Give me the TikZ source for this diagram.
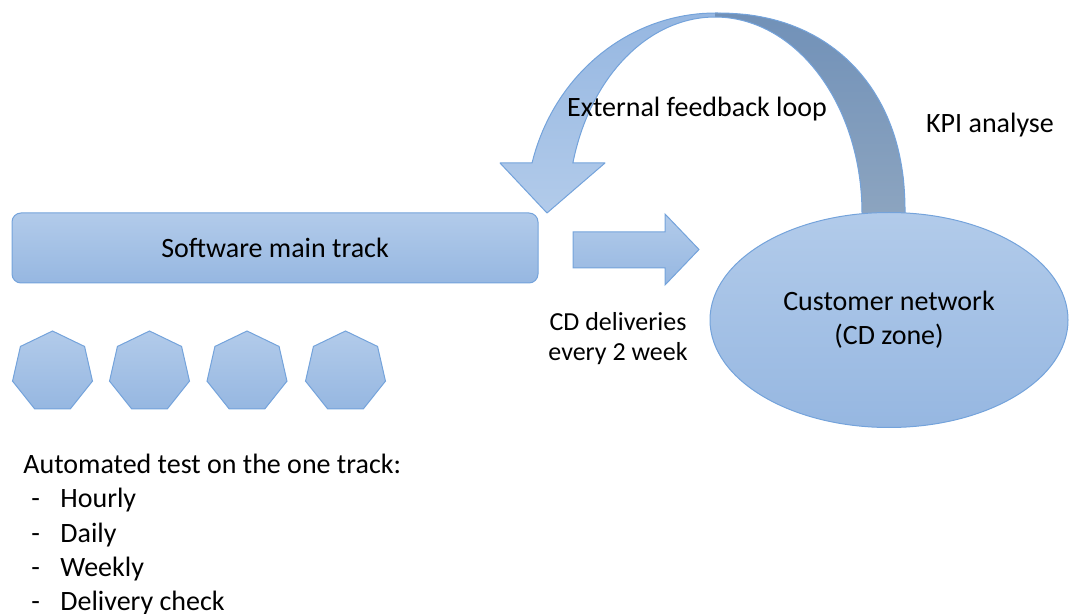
\documentclass[tikz,border=0pt]{standalone}
\usepackage{fontspec}
\setmainfont{Carlito}
\usetikzlibrary{shapes.geometric}

\definecolor{accentline}{HTML}{74A3DB}
\definecolor{accenttop}{HTML}{B2CBEA}
\definecolor{accentbot}{HTML}{96B7E1}
\definecolor{loopdark}{HTML}{7191B8}
\definecolor{loopdarkbot}{HTML}{8DA5C0}

\begin{document}
\begin{tikzpicture}[
  x=0.5pt, y=-0.5pt,
  font=\fontsize{14}{17}\selectfont,
  accent/.style={draw=accentline, line width=0.5pt, top color=accenttop, bottom color=accentbot},
  track/.style={accent, rounded corners=4.5pt, minimum width=263pt, minimum height=35pt, inner sep=0pt},
  testrun/.style={accent, regular polygon, regular polygon sides=7, minimum size=41pt, inner sep=0pt},
  zone/.style={accent, ellipse, minimum width=179pt, minimum height=107.5pt, inner sep=0pt, align=center},
  txt/.style={inner sep=0pt, align=center},
  listitem/.style={inner sep=0pt, anchor=base west}
]
\useasboundingbox (0,0) rectangle (1070,614);

% External feedback loop (light half, dark half, outline)
\path[top color=accentbot, bottom color=accenttop]
  plot[domain=270:194.48, samples=40] ({715.5+189.5*cos(\x)}, {213+200*sin(\x)})
  -- (500,163) -- (547,213) -- (605,163) -- (573,163)
  -- plot[domain=194.78:270, samples=40] ({715+147*cos(\x)}, {213+196*sin(\x)}) -- cycle;
\path[top color=loopdark, bottom color=loopdarkbot]
  (715.5,13) -- plot[domain=1:89, samples=40] ({715.5+189.5*(sin(\x))^0.9}, {213-200*(cos(\x))^0.9})
  -- (905,213) -- (905,222) -- (862,222)
  -- plot[domain=360:270, samples=40] ({715+147*cos(\x)}, {213+196*sin(\x)}) -- cycle;
\draw[accentline, line width=0.5pt, line join=round]
  (905,213) -- plot[domain=89:1, samples=40] ({715.5+189.5*(sin(\x))^0.9}, {213-200*(cos(\x))^0.9})
  -- plot[domain=270:194.48, samples=40] ({715.5+189.5*cos(\x)}, {213+200*sin(\x)})
  -- (500,163) -- (547,213) -- (605,163) -- (573,163)
  -- plot[domain=194.78:360, samples=80] ({715+147*cos(\x)}, {213+196*sin(\x)});

% Main track and test runs
\node[track] (track) at (275,248) {Software main track};
\node[testrun] (t1) at (52.5,372) {};
\node[testrun] (t2) at (149.5,372) {};
\node[testrun] (t3) at (247,372) {};
\node[testrun] (t4) at (345.5,372) {};

% Delivery arrow
\path[accent] (573,232) -- (665,232) -- (665,214) -- (699,249.5) -- (665,285) -- (665,268) -- (573,268) -- cycle;

% Customer side
\node[zone] (cust) at (889,320) {Customer network\\(CD zone)};

% Labels
\node[txt] (fb) at (697,109) {External feedback loop};
\node[txt] (kpi) at (990,125) {KPI analyse};
\node[txt, font=\fontsize{13}{15}\selectfont] (cd) at (618,339) {CD deliveries\\every 2 week};

% Test schedule
\node[listitem] (auto) at (23,473) {Automated test on the one track:};
\node[listitem] (i1) at (31,507) {\makebox[14.5pt][l]{-}Hourly};
\node[listitem] (i2) at (31,542) {\makebox[14.5pt][l]{-}Daily};
\node[listitem] (i3) at (31,576) {\makebox[14.5pt][l]{-}Weekly};
\node[listitem] (i4) at (31,610) {\makebox[14.5pt][l]{-}Delivery check};
\end{tikzpicture}
\end{document}
